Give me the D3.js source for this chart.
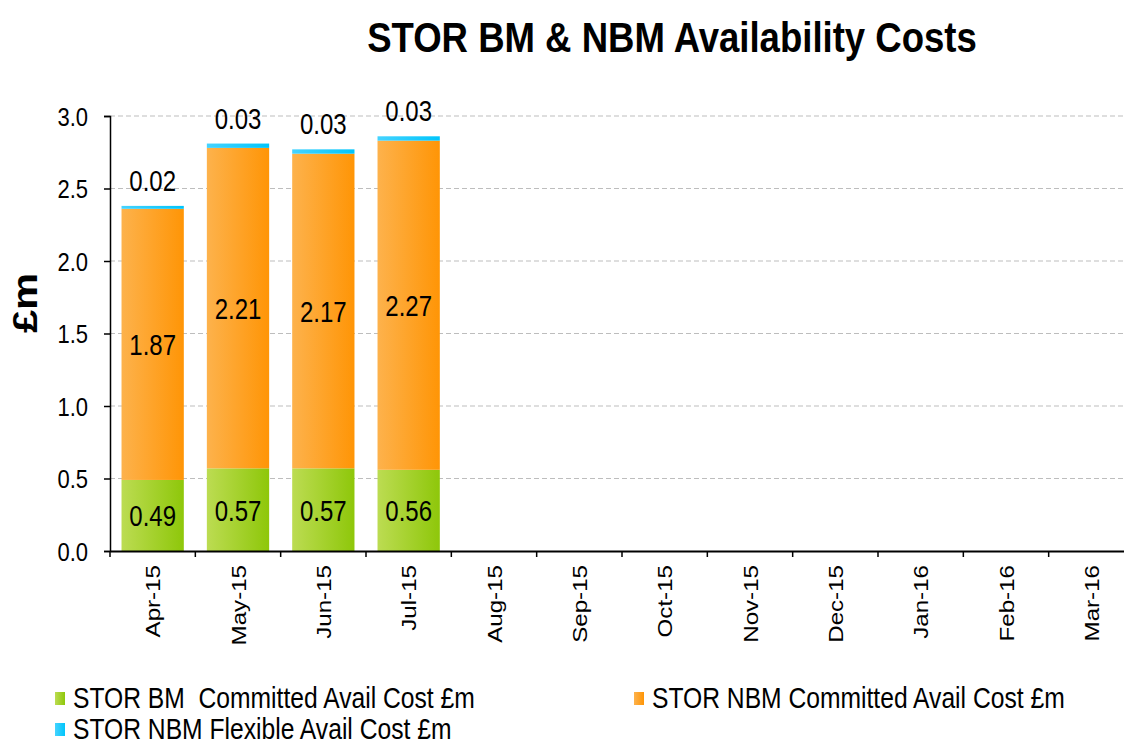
<!DOCTYPE html>
<html>
<head>
<meta charset="utf-8">
<script src="https://cdn.jsdelivr.net/npm/d3@7"></script>
<style>
  body { margin: 0; background: #fff; }
  svg { display: block; font-family: "Liberation Sans", Arial, sans-serif; }
</style>
</head>
<body>
<svg id="chart" width="1124" height="742"></svg>
<script>
const months = ['Apr-15', 'May-15', 'Jun-15', 'Jul-15', 'Aug-15', 'Sep-15',
    'Oct-15', 'Nov-15', 'Dec-15', 'Jan-16', 'Feb-16', 'Mar-16'];
const bmCommitted = [0.49, 0.57, 0.57, 0.56];
const nbmCommitted = [1.87, 2.21, 2.17, 2.27];
const nbmFlexible = [0.02, 0.03, 0.03, 0.03];
const yTicks = [0, 0.5, 1, 1.5, 2, 2.5, 3];

const seriesNames = ['STOR BM  Committed Avail Cost £m', 'STOR NBM Committed Avail Cost £m', 'STOR NBM Flexible Avail Cost £m'];
const keys = ['bm', 'nbm', 'flex'];

const svg = d3.select('#chart');
const margin = { left: 110, right: -10, top: 116, bottom: 191 };
const width = 1124 - margin.left - margin.right;
const height = 742 - margin.top - margin.bottom;

// the original picture is a bit stretched vertically, so text is squeezed in x
function squeezedText(parent, x, y, sx, txt) {
    return parent.append('text')
        .attr('transform', `translate(${x},${y}) scale(${sx},1)`)
        .text(txt);
}

// gradients
const defs = svg.append('defs');
const grads = {
    bm: ['#bcdc52', '#8ec70a'],
    nbm: ['#fdb24c', '#ff9506'],
    flex: ['#45d3ff', '#00c5fb']
};
Object.entries(grads).forEach(([k, c]) => {
    const g = defs.append('linearGradient').attr('id', 'grad-' + k)
        .attr('x1', '0%').attr('x2', '100%').attr('y1', '0%').attr('y2', '0%');
    g.append('stop').attr('offset', '0%').attr('stop-color', c[0]);
    g.append('stop').attr('offset', '100%').attr('stop-color', c[1]);
});

const rows = bmCommitted.map((v, i) => ({
    month: months[i], bm: v, nbm: nbmCommitted[i], flex: nbmFlexible[i]
}));

const x = d3.scaleBand().domain(months).range([0, width]).paddingInner(0.27).paddingOuter(0.135);
const y = d3.scaleLinear().domain([0, 3]).range([height, 0]);

const g = svg.append('g').attr('transform', `translate(${margin.left},${margin.top})`);

// title
squeezedText(svg, 672, 52, 0.87, 'STOR BM & NBM Availability Costs')
    .attr('text-anchor', 'middle')
    .style('font-size', '42px').style('font-weight', 'bold');

// gridlines
g.selectAll('line.grid')
    .data(yTicks.filter(d => d > 0))
    .enter().append('line')
    .attr('x1', 0).attr('x2', width)
    .attr('y1', d => y(d)).attr('y2', d => y(d))
    .attr('stroke', '#bdbdbd').attr('stroke-width', 1)
    .attr('stroke-dasharray', '5,3');

// stacked bars
const stack = d3.stack().keys(keys)(rows);
g.selectAll('g.layer')
    .data(stack)
    .enter().append('g')
    .attr('fill', d => `url(#grad-${d.key})`)
    .selectAll('rect')
    .data(d => d)
    .enter().append('rect')
    .attr('x', d => x(d.data.month))
    .attr('width', x.bandwidth())
    .attr('y', d => y(d[1]))
    .attr('height', d => y(d[0]) - y(d[1]));

// value labels
stack.forEach(layer => {
    layer.forEach(d => {
        const cx = x(d.data.month) + x.bandwidth() / 2;
        const cy = layer.key === 'flex' ? y(d[1]) - 15 : y((d[0] + d[1]) / 2) + 11;
        squeezedText(g, cx, cy, 0.8, d.data[layer.key].toFixed(2))
            .attr('text-anchor', 'middle')
            .style('font-size', '30px')
            .attr('fill', '#000');
    });
});

// axes
const yAxis = g.append('g')
    .call(d3.axisLeft(y).tickValues(yTicks).tickFormat(d3.format('.1f')).tickSize(6));
yAxis.select('.domain').attr('stroke', '#000').attr('stroke-width', 1.5);
yAxis.selectAll('.tick line').attr('stroke', '#000').attr('stroke-width', 1.5);
yAxis.selectAll('.tick text')
    .attr('x', 0).attr('dy', '0.36em')
    .attr('transform', 'translate(-22,0) scale(0.88,1)')
    .style('font-size', '25px').attr('fill', '#000')
    .style('font-family', '"Liberation Sans", Arial, sans-serif');

const xAxis = g.append('g').attr('transform', `translate(0,${height})`)
    .call(d3.axisBottom(x).tickSize(0));
xAxis.select('.domain').attr('stroke', '#000').attr('stroke-width', 2);
xAxis.selectAll('.tick line').remove();
// tick marks between categories
g.selectAll('line.xtick')
    .data(d3.range(months.length + 1))
    .enter().append('line')
    .attr('x1', i => i * x.step()).attr('x2', i => i * x.step())
    .attr('y1', height).attr('y2', height + 6)
    .attr('stroke', '#000').attr('stroke-width', 1.5);
xAxis.selectAll('.tick text')
    .style('font-size', '21px').attr('fill', '#000')
    .style('font-family', '"Liberation Sans", Arial, sans-serif')
    .attr('transform', 'translate(0,14) rotate(-90) scale(1.15,1)')
    .attr('text-anchor', 'end')
    .attr('x', 0).attr('y', 0).attr('dy', '0.36em');

// y label
svg.append('text')
    .attr('transform', 'translate(37,303) rotate(-90) scale(1.19,1)')
    .attr('text-anchor', 'middle')
    .style('font-size', '35px').style('font-weight', 'bold')
    .text('£m');

// legend
const legendPos = [[55, 692], [634, 692], [55, 723]];
keys.forEach((k, i) => {
    const [lx, ly] = legendPos[i];
    svg.append('rect').attr('x', lx).attr('y', ly).attr('width', 10).attr('height', 13)
        .attr('fill', `url(#grad-${k})`);
    squeezedText(svg, lx + 18, ly + 16, 0.85, seriesNames[i])
        .style('font-size', '29px').style('white-space', 'pre').attr('fill', '#000');
});
</script>
</body>
</html>
